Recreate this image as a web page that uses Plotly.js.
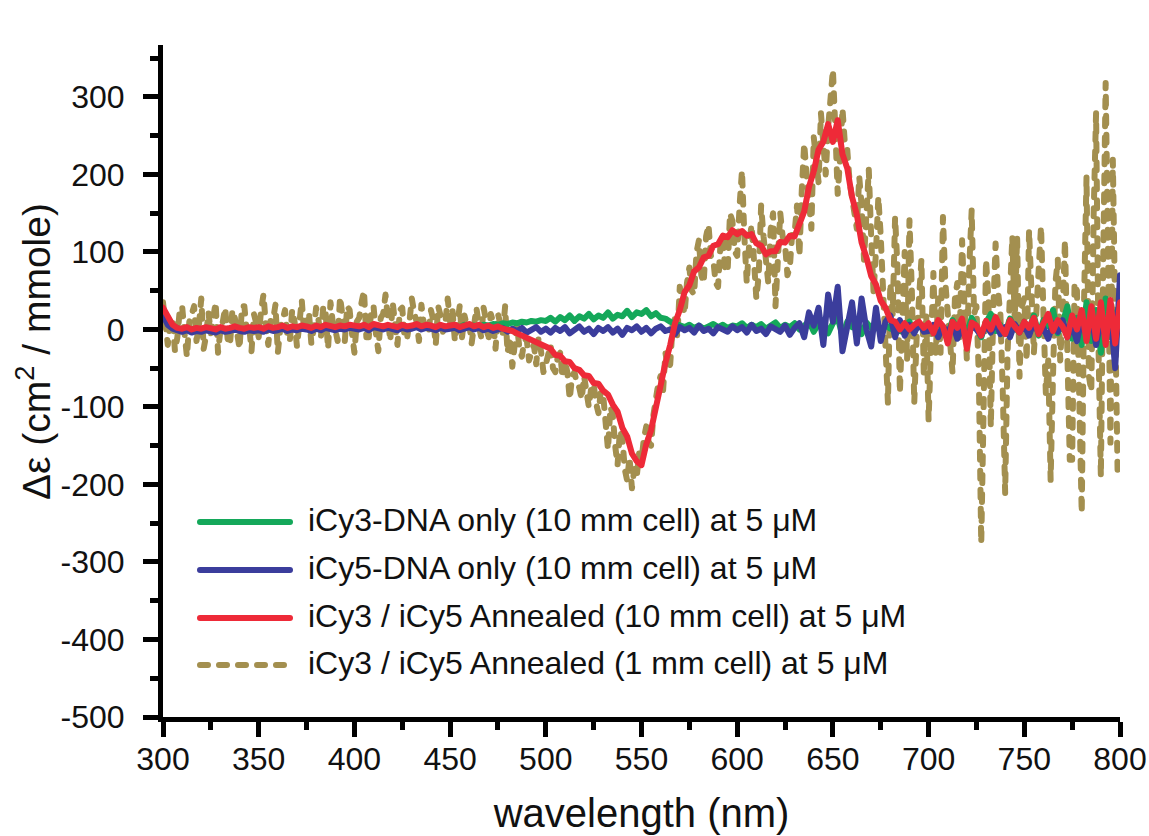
<!DOCTYPE html>
<html>
<head>
<meta charset="utf-8">
<script src="https://cdn.plot.ly/plotly-3.0.1.min.js"></script>
<style>
  body { margin: 0; background: #fff; }
  #chart { width: 1149px; height: 836px; }
  .scatterlayer path.js-line { stroke-linecap: round !important; stroke-linejoin: round !important; }
  .shapelayer path { stroke-linecap: round !important; }
</style>
</head>
<body>
<div id="chart"></div>
<script>
// wavelength grids (nm)
const gridStart = 300, gridEnd = 800;
const stepMain = 2.5;   // green, blue, red series
const stepFine = 1.25;  // gold (1 mm cell) series

// Δε values; rows = 50 nm at 2.5 nm per value
const iCy3Only = [
  22, 10, 4, 1, 0, 2, -1, 1, 0, 2, 1, -1, 2, 0, 1, 3, 1, 0, 2, 1,
  2, 0, 3, 1, 2, 4, 1, 3, 2, 4, 3, 1, 4, 2, 5, 3, 2, 4, 3, 5,
  4, 3, 5, 2, 6, 4, 3, 5, 4, 2, 5, 3, 4, 6, 3, 5, 4, 2, 5, 3,
  4, 5, 3, 6, 4, 5, 3, 6, 5, 7, 6, 8, 7, 9, 8, 10, 9, 11, 10, 12,
  11, 15, 10, 16, 12, 18, 11, 17, 14, 20, 13, 18, 15, 22, 14, 19, 17, 24, 16, 22,
  20, 25, 17, 21, 15, 14, 10, 7, 5, 3, 6, 2, 5, 1, 4, 7, 3, 6, 2, 5,
  4, 8, 2, 6, 3, 7, 1, 5, 9, 2, 6, 3, 8, 0, 5, 10, -3, 7, 12, -5,
  8, 15, -8, 10, 3, 12, -6, 9, 2, 7, -4, 6, 1, 8, -2, 5, 10, -3, 7, 2,
  6, -4, 10, 2, -8, 12, 0, 8, -5, 15, 3, -10, 9, 20, -2, 6, -6, 14, 2, -4,
  10, 0, 18, -8, 12, 4, 25, -5, 8, 30, -12, 15, -20, 35, -15, 25, -30, 40, -10, 20,
  30
];

const iCy5Only = [
  18, 6, 1, -2, -3, -1, -4, -2, -3, -1, -2, -4, -1, -3, -2, 0, -2, -3, -1, -2,
  -1, -3, 0, -2, -1, 1, -2, 0, -1, 1, 0, -2, 1, -1, 2, 0, -1, 1, 0, 2,
  1, 0, 2, -1, 3, 1, 0, 2, 1, -1, 2, 0, 1, 3, 0, 2, 1, -1, 2, 0,
  1, 2, -1, 1, 3, 0, 2, -1, 1, -2, 0, 2, -3, 1, -2, 2, -4, 0, 3, -3,
  1, -4, 2, -2, 3, -5, 0, 4, -3, 1, -6, 2, -2, 3, -4, 1, -7, 2, -1, 4,
  -3, 2, -5, 1, 4, -2, 0, -6, 3, -1, 2, -4, 5, -2, 1, -5, 3, 0, -3, 4,
  -1, 3, -4, 6, -2, 1, -6, 4, 0, -3, 5, -7, 2, 8, -10, 22, 5, 28, -20, 45,
  10, 55, -28, 5, 35, -18, 40, 0, -22, 28, -15, 10, 18, -10, 12, -8, 6, -5, 8, -3,
  -2, 6, -10, 4, -5, 8, -12, 2, -15, 5, 0, -8, 6, -4, 10, -6, 3, -10, 7, -3,
  5, -8, 10, -5, 2, -12, 8, -3, 12, -10, 5, -15, 15, -8, 18, -20, 12, -10, 20, -50,
  70
];

const annealed10mm = [
  28, 15, 6, 2, 1, 3, 0, 2, 1, 3, 2, 0, 3, 1, 2, 4, 2, 1, 3, 2,
  3, 1, 4, 2, 3, 5, 2, 4, 3, 5, 4, 2, 5, 3, 6, 4, 3, 5, 4, 6,
  5, 4, 6, 3, 7, 5, 4, 6, 5, 3, 6, 4, 5, 7, 4, 6, 5, 3, 6, 4,
  5, 6, 3, 5, 7, 4, 6, 3, 5, 2, 4, 1, 0, -2, -5, -8, -12, -15, -17, -21,
  -24, -25, -33, -34, -41, -42, -50, -52, -59, -60, -69, -70, -79, -84, -97, -106, -127, -138, -160, -170,
  -175, -148, -130, -98, -74, -43, -20, 8, 25, 48, 57, 75, 80, 93, 95, 108, 110, 121, 119, 128,
  123, 127, 121, 123, 111, 108, 97, 101, 101, 113, 112, 121, 120, 138, 152, 184, 204, 232, 242, 265,
  242, 270, 226, 208, 171, 148, 112, 93, 69, 58, 37, 28, 12, 10, 0, 8, 0, 6, 10, 2,
  8, -5, 12, 4, -18, 10, 2, 14, -25, 9, 5, -8, 11, 0, 16, 3, -6, 12, 5, -4,
  10, 2, 15, -6, 8, 20, -2, 12, 4, -10, 18, 0, 25, -15, 30, -12, 35, -20, 38, -18,
  35
];

// rows = 25 nm at 1.25 nm per value
const annealed1mm = [
  35, 12, -20, 8, 15, -28, -10, 25, 30, -5, -35, 10, 18, 30, -15, 5, 40, -25, -8, 22,
  -5, 15, 35, -30, 0, 10, 28, -12, -20, 25, 15, -5, -25, 30, 30, -2, 5, -28, 20, 8,
  -10, 25, 45, 5, -20, 12, 12, 32, -30, 0, 18, 25, -8, -15, 25, 10, -22, 15, 38, -5,
  5, 22, -18, 0, 28, 12, -10, 30, 20, -25, 35, 8, 0, -15, 42, 18, -15, 30, 25, -5,
  -30, 10, 15, 35, 50, -10, -10, 22, 30, -5, -28, 15, 20, 45, 5, -15, 35, 12, -20, 25,
  28, -12, -12, 10, 40, 22, 10, -15, 32, 8, 5, -5, 25, 12, -20, 30, 18, -3, 8, 40,
  10, 25, -15, 5, 30, -10, 18, 5, 8, -18, 15, 28, 5, -10, 28, 12, -15, 20, 10, -25,
  20, 5, -5, 30, -30, -10, -48, -20, 5, -25, -35, -15, -12, -40, -30, -20, -45, -10, -28, -55,
  -45, -30, -20, -50, -55, -35, -30, -62, -40, -55, -90, -60, -55, -70, -75, -90, -60, -80, -100, -75,
  -70, -95, -108, -80, -85, -120, -155, -100, -110, -150, -175, -130, -140, -180, -195, -165, -205, -180, -190, -160,
  -170, -140, -125, -145, -150, -110, -85, -70, -60, -80, -30, -50, -45, 5, 15, -10, 55, 30, 20, 60,
  80, 50, 45, 100, 115, 70, 60, 120, 135, 95, 90, 60, 55, 110, 120, 75, 75, 150, 140, 100,
  95, 160, 205, 120, 60, 110, 135, 90, 40, 70, 160, 120, 85, 60, 130, 150, 30, 80, 150, 120,
  110, 70, 80, 125, 125, 160, 95, 180, 240, 200, 160, 130, 248, 210, 190, 279, 230, 200, 260, 300,
  335, 260, 175, 220, 285, 240, 232, 190, 170, 150, 130, 197, 160, 90, 150, 206, 120, 47, 100, 171,
  120, 40, -20, -95, 60, 20, 145, 80, -82, 30, 100, -40, 141, 50, -95, -10, 30, 90, -60, 20,
  -117, 10, 73, -30, 40, -30, 145, 60, 20, -20, -56, 40, 60, -10, 115, 30, -40, 80, 154, 20,
  30, -60, -276, -100, 90, 40, -126, 20, 111, 50, 20, -80, -211, -30, 60, 120, 10, 120, -61, 30,
  40, -40, 128, 60, -30, 20, 80, 133, 20, -82, -40, -194, -60, 60, 90, -40, 20, 115, -30, -168,
  -168, 60, 50, -100, -237, 40, 197, -60, -80, 150, 279, -20, -190, 90, 318, 100, -146, 219, -50, -185,
  -185
];

const seriesNames = [
  'iCy3-DNA only (10 mm cell) at 5 μM',
  'iCy5-DNA only (10 mm cell) at 5 μM',
  'iCy3 / iCy5 Annealed (10 mm cell) at 5 μM',
  'iCy3 / iCy5 Annealed (1 mm cell) at 5 μM'
];

const xTickVals = [300, 350, 400, 450, 500, 550, 600, 650, 700, 750, 800];
const xTickText = ['300', '350', '400', '450', '500', '550', '600', '650', '700', '750', '800'];
const yTickVals = [300, 200, 100, 0, -100, -200, -300, -400, -500];
const yTickText = ['300', '200', '100', '0', '-100', '-200', '-300', '-400', '-500'];

function grid(step) {
  const out = [];
  const n = Math.round((gridEnd - gridStart) / step);
  for (let i = 0; i <= n; i++) out.push(gridStart + step * i);
  return out;
}
const wlMain = grid(stepMain);
const wlFine = grid(stepFine);

const colors = ['#14a85a', '#3b3d9c', '#ee2a38', '#a38f4f'];
const FONT = 'Liberation Sans, Arial, Helvetica, sans-serif';

const seriesData = [iCy3Only, iCy5Only, annealed10mm, annealed1mm];
const seriesX = [wlMain, wlMain, wlMain, wlFine];
const dashes = ['solid', 'solid', 'solid', '8px,11px'];
const order = [3, 0, 1, 2]; // gold first, red on top

const traces = order.map(k => ({
  type: 'scatter', mode: 'lines', name: seriesNames[k],
  x: seriesX[k], y: seriesData[k],
  line: { color: colors[k], width: 6, dash: dashes[k] },
  showlegend: false, hoverinfo: 'skip'
}));

// custom legend (plotly's legend swatches are too short)
const plotL = 163, plotR = 1120, plotT = 45, plotB = 717;
const px2x = p => (p - plotL) / (plotR - plotL);
const py2y = p => (plotB - p) / (plotB - plotT);
const legendRowsPx = [522, 570, 618, 665];
const shapes = [], annotations = [];
for (let k = 0; k < 4; k++) {
  shapes.push({
    type: 'line', xref: 'paper', yref: 'paper',
    x0: px2x(200), x1: px2x(290), y0: py2y(legendRowsPx[k]), y1: py2y(legendRowsPx[k]),
    line: { color: colors[k], width: 6, dash: dashes[k] }
  });
  annotations.push({
    xref: 'paper', yref: 'paper', x: px2x(306), y: py2y(legendRowsPx[k] - 2),
    xanchor: 'left', yanchor: 'middle', showarrow: false,
    text: seriesNames[k], font: { family: FONT, size: 32, color: '#111' }
  });
}
annotations.push({
  xref: 'paper', yref: 'paper', x: px2x(33), y: py2y(352),
  xanchor: 'center', yanchor: 'middle', showarrow: false, textangle: -90,
  text: 'Δε (cm<sup>2</sup> / mmole)', font: { family: FONT, size: 39, color: '#111' }
});

const layout = {
  width: 1149, height: 836,
  margin: { l: plotL, r: 1149 - plotR, t: plotT, b: 836 - plotB, pad: 0 },
  paper_bgcolor: '#ffffff', plot_bgcolor: '#ffffff',
  font: { family: FONT, size: 32, color: '#111' },
  xaxis: {
    range: [300, 800], tickmode: 'array', tickvals: xTickVals, ticktext: xTickText,
    showline: true, linewidth: 5, linecolor: '#000', showgrid: false, zeroline: false,
    ticks: 'outside', ticklen: 15, tickwidth: 5, tickcolor: '#000', ticklabelstandoff: -5,
    tickfont: { family: FONT, size: 32, color: '#111' },
    minor: { tickmode: 'array', tickvals: [325, 375, 425, 475, 525, 575, 625, 675, 725, 775],
             ticks: 'outside', ticklen: 8, tickwidth: 5, tickcolor: '#000', showgrid: false },
    title: { text: 'wavelength (nm)', font: { family: FONT, size: 40, color: '#111' }, standoff: 24 }
  },
  yaxis: {
    range: [-500, 367], tickmode: 'array', tickvals: yTickVals, ticktext: yTickText,
    showline: true, linewidth: 5, linecolor: '#000', showgrid: false, zeroline: false,
    ticks: 'outside', ticklen: 15, tickwidth: 5, tickcolor: '#000', ticklabelstandoff: 12,
    tickfont: { family: FONT, size: 32, color: '#111' },
    minor: { tickmode: 'array', tickvals: [350, 250, 150, 50, -50, -150, -250, -350, -450],
             ticks: 'outside', ticklen: 8, tickwidth: 5, tickcolor: '#000', showgrid: false }
  },
  shapes: shapes, annotations: annotations, showlegend: false
};

Plotly.newPlot('chart', traces, layout, { displayModeBar: false, staticPlot: true });
</script>
</body>
</html>
